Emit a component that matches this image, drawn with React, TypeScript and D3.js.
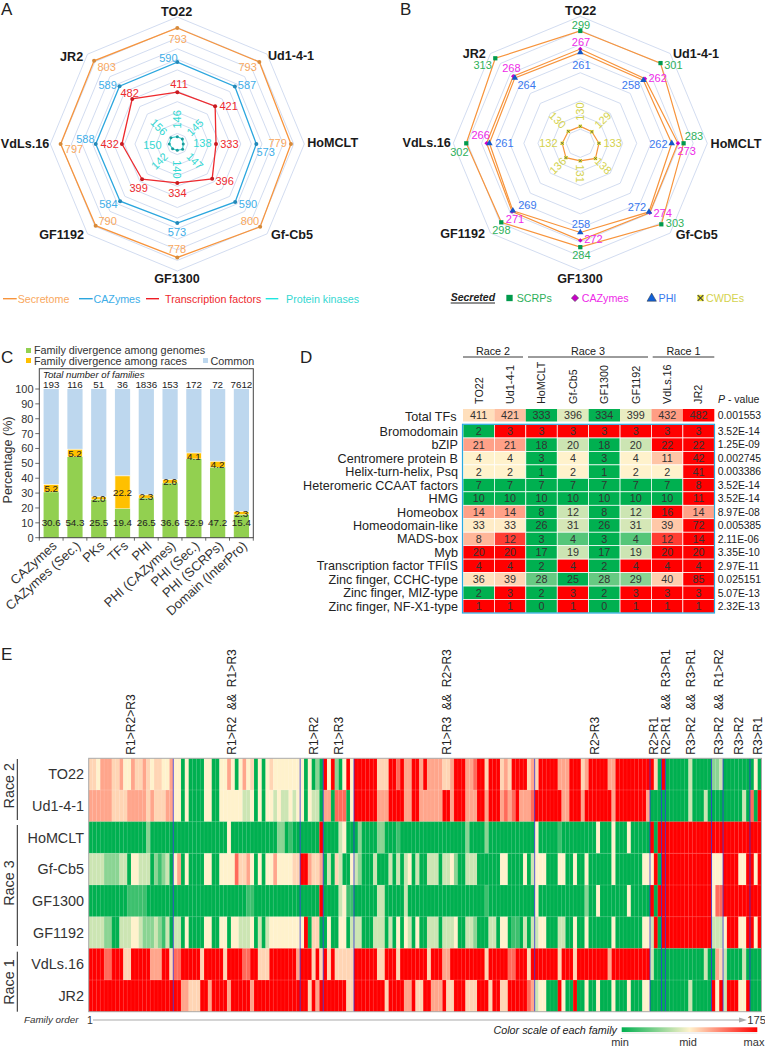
import React from "react";
import * as d3 from "d3";

const FONT = "'Liberation Sans', Arial, sans-serif";
const GENOMES = ["TO22", "Ud1-4-1", "HoMCLT", "Gf-Cb5", "GF1300", "GF1192", "VdLs.16", "JR2"];

// Panel A
const secretome = [793, 793, 779, 800, 778, 790, 797, 803];
const cazymes = [590, 587, 573, 590, 573, 584, 588, 589];
const tfs = [411, 421, 333, 396, 334, 399, 432, 482];
const kinases = [146, 145, 138, 147, 140, 142, 150, 156];
// Panel B
const scrps = [299, 301, 283, 303, 284, 298, 302, 313];
const secCaz = [267, 262, 273, 274, 272, 271, 266, 268];
const phi = [261, 258, 262, 272, 258, 269, 261, 264];
const cwdes = [130, 129, 133, 138, 131, 136, 132, 130];
// Panel C
const cCats = ["CAZymes", "CAZymes (Sec.)", "PKs", "TFs", "PHI", "PHI (CAZymes)", "PHI (Sec.)", "PHI (SCRPs)", "Domain (InterPro)"];
const cTotals = [193, 116, 51, 36, 1836, 153, 172, 72, 7612];
const cGenome = [30.6, 54.3, 25.5, 19.4, 26.5, 36.6, 52.9, 47.2, 15.4];
const cRaces = [5.2, 5.2, 2.0, 22.2, 2.3, 2.6, 4.1, 4.2, 2.3];
// Panel D
const dRows = ["Bromodomain", "bZIP", "Centromere protein B", "Helix-turn-helix, Psq", "Heteromeric CCAAT factors", "HMG", "Homeobox", "Homeodomain-like", "MADS-box", "Myb", "Transcription factor TFIIS", "Zinc finger, CCHC-type", "Zinc finger, MIZ-type", "Zinc finger, NF-X1-type"];
const dTotal = [411, 421, 333, 396, 334, 399, 432, 482];
const dValues = [
  [2, 3, 3, 3, 3, 3, 3, 3],
  [21, 21, 18, 20, 18, 20, 22, 22],
  [4, 4, 3, 4, 3, 4, 11, 42],
  [2, 2, 1, 2, 1, 2, 2, 41],
  [7, 7, 7, 7, 7, 7, 7, 8],
  [10, 10, 10, 10, 10, 10, 10, 11],
  [14, 14, 8, 12, 8, 12, 16, 14],
  [33, 33, 26, 31, 26, 31, 39, 72],
  [8, 12, 3, 4, 3, 4, 12, 14],
  [20, 20, 17, 19, 17, 19, 20, 20],
  [4, 4, 2, 4, 2, 4, 4, 4],
  [36, 39, 28, 25, 28, 29, 40, 85],
  [2, 3, 2, 3, 2, 3, 3, 3],
  [1, 1, 0, 1, 0, 1, 1, 1],
];
const dP = ["3.52E-14", "1.25E-09", "0.002745", "0.003386", "3.52E-14", "3.52E-14", "8.97E-08", "0.005385", "2.11E-06", "3.35E-10", "2.97E-11", "0.025151", "5.07E-13", "2.32E-13"];
const dTotalP = "0.001553";
// Panel E: run-length coded level per family (175 per row), section by section
const LEVELS: Record<string, number> = { G: 0, h: 0.12, g: 0.27, l: 0.4, c: 0.5, o: 0.56, s: 0.66, t: 0.78, r: 1 };
const eTO22 = "2o 1c 3s 2o 1s 2c 1s 2o 1s 1o 1c 1o 1o 2c 1s  2c 1G 1c 4G 2c 2G 2c 1s 1c 1G 1c 1s 1c 1o 1G 1c 1G  1c 1o 7c  1c 1G 1c 1G 1g 1G  1r 1c 1r 1g 1G 1c 1r 1c  6r 3o 2r 1t 1r 2s 2r 1s 1r 4s 2o 1s 3r 2s 1t 2r 1o 3r 1o 1s 1o 4r 1o 1s  1o 5r 3s 3r 1o 1s 5r 2s 9r  1r 1o 1G 1r  6G 1l 5G  2g 1l  7G  1G 1c 1G";
const eUd = "6s 4o 5s 1o 1s 3o 2s  2c 1G 1c 4G 2c 2G 6c 2l 1c 1G 1c 1G  2c 1l 1c 2l 1c 1l 1c  1c 1G 1c 2l 1G  2s 1G 3t 1G 1c  6r 3s 4r 2s 2r 6s 2r 1s 3r 3s 2r 1s 3r 1s 1t 1s 1t 1r 3s 1t  7r 2s 3r 1s 7r 1s 8r 1s  4G  6G 1l 3G 1l 1G  3G  5G 1l 1G  1t 1G 1r";
const eHo = "15G 1g 6G  14G 1c 9G  3G 2g 1G 1h 2G  5G 1r  4G 1l 1c 2G  1G 1g 4G 2g 3G 1h 17G 1g 4G 1g 12G  1c 5G 1h 9G 1c 3G 1c 3G 1c 5G  1r 1G 1r 1r  12r  3r  7r  3r";
const eGf = "4l 4g 2l 1G 2c 3l 1G 1g 1h 1g 1l 1G  1c 1s 1G 1c 4G 2c 2G 4c 1t 2o 1s 1c 1G 1c 1G  2c 1s 4c 2o  2r 1s 2o 1s  1G 1l 1G 1o 1l 2G 1c  1l 1g 3G 1l 3G 1l 1G 1l 1G 1l 1c 1G 1l 2G 3l 1G 2l 1c 1g 2G 3l 3G 3G 2c 3G 1G 1c 1G 1l  3c 3G 2c 2G 1c 2G 1c 6G 1c 7G 2c  1c 1r 1G 1r  12r  3c  4r 2c 1r  1r 1c 1r";
const eGF13 = "10G 5h 7G  19G 2h 3G  9G  5G 1r  4G 1l 1c 2h  6G 2l 5G 1l 20G 1h 12G  1c 12G 1g 2G 1c 7G 1c 5G  1r 1G 2r  12r  1c 2t  10r";
const eGF11 = "4l 2g 2G 2l 1l 2c 1l 3g 1l 1g 1h 1l 1G  2l 1G 1c 4G 2c 2G 2c 1G 2c 3l 1c 1G 1l 1G  1l 8c  1c 1r 1G 2o 1G  1G 1c 2G 2c 1G 1l  2l 3G 3l 1G 1l 1G 1c 1G 1c 1l 1G 1c 2G 3l 1G 3l 1c 2G 2l 1g 3G 2l 1G 2c 1G 2h 1G 1l 1G 1l  1l 2c 3G 2l 2G 1c 2G 1c 6G 1c 7G 2c  1l 1r 1G 1r  12r  3l  1c 3r 2c 2r 1c 1r";
const eVd = "4r 2t 3r 2o 5r 3s 2r 1o  2t 5r 1o 5r 1o 4r 2t 2r 2o  1o 7r 1s  3r 1o 1r 1o  1r 1o 1r 5o  6r 2o 3r 1o 7r 1o 3r 2s 9r 1o 5r 2t 1r 2r 1o 1r  6r 1o 3r 1o 8r 1s 10r  1l 3G  10G 1l 1G  1G 1s 1o  1l 4G 1l 4G";
const eJR = "22r  2r 2s 3o 2r 1s 4r 1s 5r 1s 3r  9r  2r 1o 1r 1s 1r  6r 2o  8r 1o 4r 2s 1r 2o 2r 3s 1r 2o 3r 3o 3r 1o 2r 2o 3r 2r 1t 1s  1l 2c 3G 1r 1c 2G 1r 2G 1c 2G 1c 3G 1c 3G 1c 3G 2c  4G  6G 1l 5G  1r 1c 1r  1l 3r 2c 1r 3G";
const eRows = [eTO22, eUd, eHo, eGf, eGF13, eGF11, eVd, eJR];
const eBoundaries = [22, 55, 61, 69, 116, 146, 149, 150, 162, 165, 172];
const eLabels = ["R1>R2>R3", "R1>R2  &&  R1>R3", "R1>R2", "R1>R3", "R1>R3  &&  R2>R3", "R2>R3", "R2>R1", "R2>R1  &&  R3>R1", "R3>R2  &&  R3>R1", "R3>R2  &&  R1>R2", "R3>R2", "R3>R1"];

// ---- layout tables (zoomed-crop coordinates / 3) ----
const axisPosA: [number, number][] = [[530, 35], [873, 165], [998, 428], [876, 703], [531, 836], [185, 702], [75, 430], [215, 168]];
const axisPosB: [number, number][] = [[602, 30], [948, 160], [1068, 430], [950, 702], [600, 835], [248, 700], [140, 428], [283, 160]];
const lblA = {
  sec: [[533, 117], [743, 201], [833, 430], [750, 664], [531, 748], [323, 664], [222, 446], [320, 201]],
  caz: [[505, 173], [741, 254], [797, 456], [744, 613], [531, 695], [325, 613], [256, 416], [323, 254]],
  tf: [[537, 253], [686, 318], [688, 432], [674, 544], [532, 579], [416, 563], [329, 432], [389, 279]],
  pk: [[531, 358], [585, 382], [607, 429], [585, 483], [532, 508], [478, 483], [457, 434], [477, 381]],
};
const lblB = {
  scrp: [[603, 76], [880, 195], [942, 408], [885, 668], [604, 766], [364, 691], [238, 456], [308, 196]],
  caz: [[603, 127], [833, 234], [920, 454], [848, 638], [640, 716], [405, 656], [302, 405], [394, 205]],
  phi: [[604, 195], [753, 254], [835, 432], [771, 621], [603, 672], [442, 616], [373, 430], [440, 254]],
  cw: [[601, 335], [668, 360], [698, 430], [670, 497], [601, 521], [533, 497], [505, 430], [533, 360]],
};
const radialRot = [-90, -45, 0, 45, 90, -45, 0, 45];

const angle = (i: number) => (i * Math.PI * 2) / 8;
const polar = (cx: number, cy: number, r: number, i: number): [number, number] => [cx + r * Math.sin(angle(i)), cy - r * Math.cos(angle(i))];
const closedRadial = d3.lineRadial<number>().angle((_, i) => angle(i)).radius((d) => d).curve(d3.curveLinearClosed);

const GREEN = "#00b050", CREAM = "#fff2cc", RED = "#ff0000";

function Rings({ cx, cy, radii }: { cx: number; cy: number; radii: number[] }) {
  return (
    <g transform={`translate(${cx},${cy})`} fill="none" stroke="#cdd8ee" strokeWidth={0.9}>
      {radii.map((r, k) => (
        <path key={k} d={closedRadial(d3.range(8).map(() => r)) || ""} />
      ))}
    </g>
  );
}

function PanelA() {
  const cx = 177.3, cy = 144;
  const r = d3.scaleLinear().domain([102.5, 858.5]).range([0, 127]);
  const series = [
    { v: secretome, c: "#f7943c", dot: "#d68a3a", t: "#f9a85e", lbl: lblA.sec, w: 1.3, dr: 2 },
    { v: cazymes, c: "#2ba6de", dot: "#2388b8", t: "#40aee8", lbl: lblA.caz, w: 1.3, dr: 2 },
    { v: tfs, c: "#ee2a2e", dot: "#c81a20", t: "#ee2a2e", lbl: lblA.tf, w: 1.3, dr: 2 },
    { v: kinases, c: "#2fd6d0", dot: "#1c9a9c", t: "#35d8d2", lbl: lblA.pk, w: 1.1, dr: 1.5 },
  ];
  return (
    <g fontFamily={FONT}>
      <Rings cx={cx} cy={cy} radii={d3.range(1, 13).map((k) => (127 * k) / 12)} />
      {series.map((s, si) => (
        <g key={si}>
          <path transform={`translate(${cx},${cy})`} d={closedRadial(s.v.map((x) => r(x))) || ""} fill="none" stroke={s.c} strokeWidth={s.w} />
          {s.v.map((x, i) => {
            const [px, py] = polar(cx, cy, r(x), i);
            return <circle key={i} cx={px} cy={py} r={s.dr} fill={s.dot} />;
          })}
          {s.v.map((x, i) => {
            const [lx, ly] = s.lbl[i];
            const rot = si === 3 ? radialRot[i] : 0;
            return (
              <text key={i} transform={`translate(${lx / 3},${ly / 3}) rotate(${rot})`} textAnchor="middle" dy="0.36em" fontSize={11} fill={s.t}>
                {x}
              </text>
            );
          })}
        </g>
      ))}
      {GENOMES.map((g, i) => (
        <text key={g} x={axisPosA[i][0] / 3} y={axisPosA[i][1] / 3} textAnchor="middle" dy="0.36em" fontSize={12.6} fontWeight="bold" fill="#1a1a1a">
          {g}
        </text>
      ))}
      {[
        ["Secretome", 3, 16.7, 17.7, "#f7943c", "#f9a85e"],
        ["CAZymes", 79, 92.7, 93.5, "#2ba6de", "#40aee8"],
        ["Transcription factors", 146, 159, 165, "#ee1c24", "#ee2a2e"],
        ["Protein kinases", 265.7, 278.3, 286, "#1ee6e0", "#35d8d2"],
      ].map((l: any) => (
        <g key={l[0]}>
          <line x1={l[1]} x2={l[2]} y1={298.7} y2={298.7} stroke={l[4]} strokeWidth={1.4} />
          <text x={l[3]} y={298.7} dy="0.36em" fontSize={10.7} fill={l[5]}>{l[0]}</text>
        </g>
      ))}
    </g>
  );
}

function PanelB() {
  const cx = 580.3, cy = 143.3;
  const r = d3.scaleLinear().domain([100, 325]).range([0, 127]);
  const sym = (t: any, s: number) => d3.symbol().type(t).size(s)() || "";
  const series = [
    { v: scrps, t: "#2eb05a", lbl: lblB.scrp, path: sym(d3.symbolSquare, 18), fill: "#009a4c", rot: 0 },
    { v: secCaz, t: "#ee2ae8", lbl: lblB.caz, path: sym(d3.symbolSquare, 10), fill: "#c800c8", rot: 45 },
    { v: phi, t: "#3a78ee", lbl: lblB.phi, path: sym(d3.symbolTriangle, 18), fill: "#1458c8", rot: 0 },
    { v: cwdes, t: "#d4d24e", lbl: lblB.cw, path: sym(d3.symbolSquare, 12), fill: "#e6e030", rot: 0 },
  ];
  return (
    <g fontFamily={FONT}>
      <Rings cx={cx} cy={cy} radii={d3.range(1, 10).map((k) => r(100 + 25 * k))} />
      {series.map((s, si) => (
        <g key={si}>
          <path transform={`translate(${cx},${cy})`} d={closedRadial(s.v.map((x) => r(x))) || ""} fill="none" stroke="#f7943c" strokeWidth={1.2} />
        </g>
      ))}
      {series.map((s, si) => (
        <g key={si}>
          {s.v.map((x, i) => {
            const [px, py] = polar(cx, cy, r(x), i);
            return (
              <g key={i} transform={`translate(${px},${py}) rotate(${s.rot})`}>
                <path d={s.path} fill={s.fill} />
                {si === 3 && <path d="M-1.3,-1.3L1.3,1.3M-1.3,1.3L1.3,-1.3" stroke="#555" strokeWidth={0.7} />}
              </g>
            );
          })}
          {s.v.map((x, i) => {
            const [lx, ly] = s.lbl[i];
            const rot = si === 3 ? radialRot[i] : 0;
            return (
              <text key={i} transform={`translate(${lx / 3 + 380},${ly / 3}) rotate(${rot})`} textAnchor="middle" dy="0.36em" fontSize={11} fill={s.t}>
                {x}
              </text>
            );
          })}
        </g>
      ))}
      {GENOMES.map((g, i) => (
        <text key={g} x={axisPosB[i][0] / 3 + 380} y={axisPosB[i][1] / 3} textAnchor="middle" dy="0.36em" fontSize={12.6} fontWeight="bold" fill="#1a1a1a">
          {g}
        </text>
      ))}
      <text x={450.7} y={297} dy="0.36em" fontSize={10.5} fontWeight="bold" fontStyle="italic" fill="#222">Secreted</text>
      <line x1={450.7} x2={495} y1={303} y2={303} stroke="#222" strokeWidth={1} />
      <path transform="translate(509.5,298)" d={sym(d3.symbolSquare, 40)} fill="#009a4c" />
      <text x={516.7} y={298} dy="0.36em" fontSize={10.7} fill="#2eb05a">SCRPs</text>
      <path transform="translate(575,298) rotate(45)" d={sym(d3.symbolSquare, 26)} fill="#c800c8" stroke="#333" strokeWidth={0.5} />
      <text x={581.7} y={298} dy="0.36em" fontSize={10.7} fill="#ee2ae8">CAZymes</text>
      <path transform="translate(651.7,298.5)" d={sym(d3.symbolTriangle, 38)} fill="#1060d8" stroke="#333" strokeWidth={0.5} />
      <text x={658.5} y={298} dy="0.36em" fontSize={10.7} fill="#3a78ee">PHI</text>
      <path transform="translate(700.5,298)" d={sym(d3.symbolSquare, 40)} fill="#e6e030" />
      <path transform="translate(700.5,298)" d="M-2.8,-2.8L2.8,2.8M-2.8,2.8L2.8,-2.8" stroke="#444" strokeWidth={1.1} />
      <text x={706} y={298} dy="0.36em" fontSize={10.7} fill="#d4d24e">CWDEs</text>
    </g>
  );
}

function PanelC() {
  const left = 39.3, right = 253.3, top = 368.7, bottom = 537.7;
  const x = d3.scaleBand<string>().domain(cCats).range([left, right]).paddingInner(0.36).paddingOuter(0.18);
  const y = d3.scaleLinear().domain([0, 100]).range([bottom, 389]);
  const bw = x.bandwidth();
  const step = (right - left) / 9;
  return (
    <g fontFamily={FONT}>
      <rect x={26} y={348} width={5} height={5} fill="#92d050" />
      <text x={34} y={350.5} dy="0.36em" fontSize={10.8} fill="#333">Family divergence among genomes</text>
      <rect x={26} y={358} width={5} height={5} fill="#ffc000" />
      <text x={34} y={361} dy="0.36em" fontSize={10.8} fill="#333">Family divergence among races</text>
      <rect x={203} y={358} width={5} height={5} fill="#bdd7ee" />
      <text x={210.5} y={361} dy="0.36em" fontSize={10.8} fill="#333">Common</text>
      {cCats.map((c, i) => {
        const xx = x(c) as number;
        const a = cGenome[i], b = cRaces[i];
        const mid = xx + bw / 2;
        return (
          <g key={c}>
            <rect x={xx} width={bw} y={y(100)} height={y(a + b) - y(100)} fill="#bdd7ee" />
            <rect x={xx} width={bw} y={y(a + b)} height={y(a) - y(a + b)} fill="#ffc000" stroke="#fff" strokeWidth={0.7} />
            <rect x={xx} width={bw} y={y(a)} height={y(0) - y(a)} fill="#92d050" />
            <text x={mid} y={522.7} dy="0.36em" textAnchor="middle" fontSize={9.8} fill="#222">{a.toFixed(1)}</text>
            <text x={mid} y={y(a + b / 2)} dy="0.36em" textAnchor="middle" fontSize={9.8} fill="#222">{b.toFixed(1)}</text>
            <text x={mid} y={384.7} dy="0.36em" textAnchor="middle" fontSize={9.8} fill="#222">{cTotals[i]}</text>
            <text transform={`translate(${mid + 6.5},${547}) rotate(-42)`} textAnchor="end" fontSize={13} fill="#333">{c}</text>
          </g>
        );
      })}
      <rect x={left} y={top} width={right - left} height={bottom - top} fill="none" stroke="#444" strokeWidth={1} />
      <text x={43} y={375} dy="0.36em" fontSize={9.6} fontStyle="italic" fill="#222">Total number of families</text>
      {y.ticks(10).map((t) => (
        <g key={t}>
          <line x1={left - 4} x2={left} y1={y(t)} y2={y(t)} stroke="#444" strokeWidth={0.8} />
          <text x={33.5} y={y(t)} dy="0.36em" textAnchor="end" fontSize={11} fill="#333">{t}</text>
        </g>
      ))}
      {d3.range(10).map((k) => (
        <line key={k} x1={left + k * step} x2={left + k * step} y1={bottom} y2={bottom + 3} stroke="#444" strokeWidth={0.8} />
      ))}
      <text transform="translate(7,460) rotate(-90)" textAnchor="middle" dy="0.36em" fontSize={12.5} fill="#333">Percentage (%)</text>
    </g>
  );
}

const familyColor = (vals: number[]) => {
  const [mn, md, mx] = [d3.min(vals)!, d3.median(vals)!, d3.max(vals)!];
  const scale = d3.scaleLinear<string>().domain([mn, md, mx]).range([GREEN, CREAM, RED]);
  return (v: number) => (v === mn ? GREEN : v === mx ? RED : scale(v));
};

function PanelD() {
  const x = d3.scaleBand<number>().domain(d3.range(8)).range([463, 714.3]);
  const y = d3.scaleBand<number>().domain(d3.range(14)).range([424.5, 613]);
  const w = x.bandwidth(), h = y.bandwidth();
  const totalColor = familyColor(dTotal);
  const groups = [["Race 2", 463, 523], ["Race 3", 528, 648], ["Race 1", 652.7, 714.3]];
  return (
    <g fontFamily={FONT}>
      {groups.map((g: any) => (
        <g key={g[0]}>
          <text x={(g[1] + g[2]) / 2} y={350.7} dy="0.36em" textAnchor="middle" fontSize={10.8} fill="#222">{g[0]}</text>
          <line x1={g[1]} x2={g[2]} y1={357} y2={357} stroke="#222" strokeWidth={0.9} />
        </g>
      ))}
      {GENOMES.map((g, i) => (
        <text key={g} transform={`translate(${(x(i) as number) + w / 2},404) rotate(-90)`} dy="0.36em" fontSize={10.8} fill="#222">{g}</text>
      ))}
      <text x={718} y={399} dy="0.36em" fontSize={10.5} fill="#222"><tspan fontStyle="italic">P</tspan> - value</text>
      <text x={456.5} y={416} dy="0.36em" textAnchor="end" fontSize={12.6} fill="#222">Total TFs</text>
      {dTotal.map((v, i) => (
        <g key={i}>
          <rect x={x(i)} y={409} width={w} height={12.5} fill={totalColor(v)} />
          <text x={(x(i) as number) + w / 2} y={415.3} dy="0.36em" textAnchor="middle" fontSize={10.8} fill="#333">{v}</text>
        </g>
      ))}
      <text x={717.7} y={415.3} dy="0.36em" fontSize={10.4} fill="#222">{dTotalP}</text>
      {dRows.map((name, r) => {
        const col = familyColor(dValues[r]);
        const yy = y(r) as number;
        return (
          <g key={name}>
            <text x={458} y={yy + h / 2} dy="0.36em" textAnchor="end" fontSize={12.6} fill="#222">{name}</text>
            {dValues[r].map((v, i) => (
              <g key={i}>
                <rect x={x(i)} y={yy} width={w} height={h} fill={col(v)} stroke="#fff" strokeWidth={0.7} />
                <text x={(x(i) as number) + w / 2} y={yy + h / 2} dy="0.36em" textAnchor="middle" fontSize={10.8} fill="#333">{v}</text>
              </g>
            ))}
            <text x={717.7} y={yy + h / 2} dy="0.36em" fontSize={10.4} fill="#222">{dP[r]}</text>
          </g>
        );
      })}
      <rect x={462.5} y={424.3} width={252} height={188.7} fill="none" stroke="#29abe2" strokeWidth={1.2} />
    </g>
  );
}

const decode = (s: string) => {
  const out: number[] = [];
  for (const m of s.matchAll(/(\d+)([a-zA-Z])/g)) for (let k = 0; k < +m[1]; k++) out.push(LEVELS[m[2]]);
  return out;
};

function PanelE() {
  const x = d3.scaleLinear().domain([0, 175]).range([88.7, 761.5]);
  const y = d3.scaleLinear().domain([0, 8]).range([758.3, 1011.7]);
  const color = d3.scaleLinear<string>().domain([0, 0.5, 1]).range([GREEN, CREAM, RED]);
  const rows = eRows.map(decode);
  const labelX = [130.7, 231.7, 313.3, 339, 446.7, 594.7, 654, 665.7, 691, 719, 738.3, 758];
  const races = [["Race 2", 759, 820, 785.7], ["Race 3", 825, 946, 883], ["Race 1", 951.7, 1011.7, 982]];
  const cw = x(1) - x(0);
  return (
    <g fontFamily={FONT}>
      <defs>
        <linearGradient id="scaleGrad">
          <stop offset="0" stopColor={GREEN} />
          <stop offset="0.5" stopColor={CREAM} />
          <stop offset="1" stopColor={RED} />
        </linearGradient>
      </defs>
      {rows.map((row, r) =>
        row.slice(0, 175).map((v, c) => (
          <rect key={`${r}-${c}`} x={x(c)} y={y(r)} width={cw + 0.2} height={y(r + 1) - y(r) + 0.2} fill={color(v)} />
        ))
      )}
      {d3.range(1, 175).map((c) => (
        <line key={c} x1={x(c)} x2={x(c)} y1={y(0)} y2={y(8)} stroke="#fff" strokeOpacity={0.13} strokeWidth={0.6} />
      ))}
      {d3.range(1, 8).map((r) => (
        <line key={r} x1={x(0)} x2={x(175)} y1={y(r)} y2={y(r)} stroke="#fff" strokeOpacity={0.25} strokeWidth={0.6} />
      ))}
      {eBoundaries.map((b) => (
        <line key={b} x1={x(b)} x2={x(b)} y1={y(0)} y2={y(8)} stroke="#2a2ad8" strokeOpacity={0.85} strokeWidth={0.9} />
      ))}
      <rect x={x(0)} y={y(0)} width={x(175) - x(0)} height={y(8) - y(0)} fill="none" stroke="#aaa" strokeWidth={1} />
      {eLabels.map((l, i) => (
        <text key={i} transform={`translate(${labelX[i]},754.7) rotate(-90)`} dy="0.36em" fontSize={12.1} fill="#222" style={{ whiteSpace: "pre" }}>{l}</text>
      ))}
      {GENOMES.map((g, i) => (
        <text key={g} x={84} y={y(i + 0.5)} dy="0.36em" textAnchor="end" fontSize={14.4} fill="#333">{g}</text>
      ))}
      {races.map((rc: any) => (
        <g key={rc[0]}>
          <text transform={`translate(9,${rc[3]}) rotate(-90)`} textAnchor="middle" dy="0.36em" fontSize={14.4} fill="#333">{rc[0]}</text>
          <line x1={17.3} x2={17.3} y1={rc[1]} y2={rc[2]} stroke="#222" strokeWidth={1} />
        </g>
      ))}
      <text x={24} y={1019} dy="0.36em" fontSize={9.8} fontStyle="italic" fill="#333">Family order</text>
      <text x={87} y={1020} dy="0.36em" fontSize={10.5} fill="#333">1</text>
      <line x1={93} x2={741} y1={1020} y2={1020} stroke="#aaa" strokeWidth={1.2} />
      <path d="M739,1017.5L747,1020L739,1022.5Z" fill="#aaa" />
      <text x={747.3} y={1020} dy="0.36em" fontSize={11.2} fill="#333">175</text>
      <text x={617} y={1030} dy="0.36em" textAnchor="end" fontSize={10.8} fontStyle="italic" fill="#222">Color scale of each family</text>
      <rect x={621.7} y={1027.3} width={135.6} height={4.7} fill="url(#scaleGrad)" />
      <line x1={621.7} x2={757.3} y1={1033} y2={1033} stroke="#ddd" strokeWidth={0.8} />
      <text x={620} y={1042} dy="0.36em" textAnchor="middle" fontSize={11} fill="#333">min</text>
      <text x={688} y={1042} dy="0.36em" textAnchor="middle" fontSize={11} fill="#333">mid</text>
      <text x={754} y={1042} dy="0.36em" textAnchor="middle" fontSize={11} fill="#333">max</text>
    </g>
  );
}

export default function App() {
  const letters: [string, number, number][] = [["A", 1, 15], ["B", 400, 15], ["C", 1, 363], ["D", 300, 363], ["E", 1, 660]];
  return (
    <svg width={765} height={1048} viewBox="0 0 765 1048" style={{ position: "absolute", left: 0, top: 0, background: "#fff" }}>
      {letters.map(([l, x, y]) => (
        <text key={l} x={x} y={y} fontSize={17} fontFamily={FONT} fill="#222">{l}</text>
      ))}
      <PanelA />
      <PanelB />
      <PanelC />
      <PanelD />
      <PanelE />
    </svg>
  );
}
